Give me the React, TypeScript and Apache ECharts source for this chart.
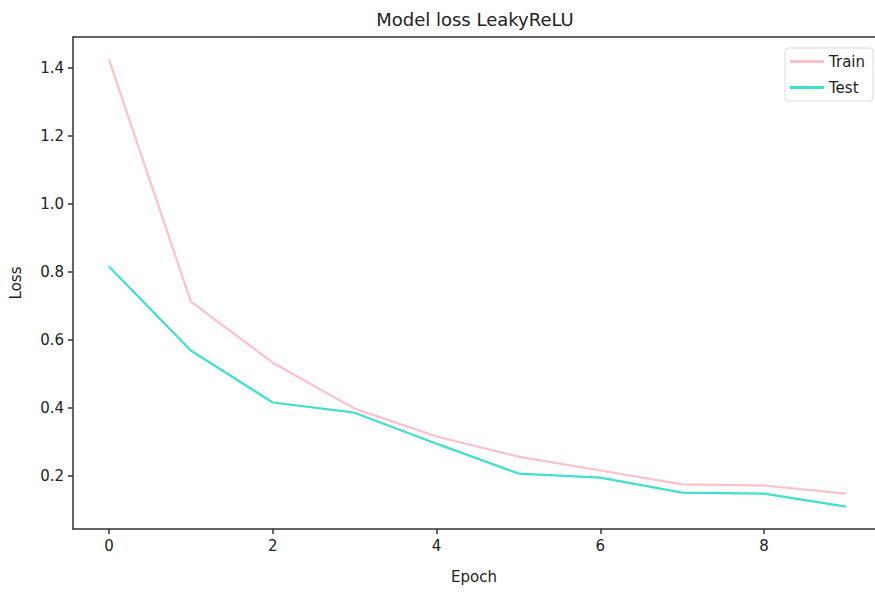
import React, { useEffect, useRef } from "react";
import * as echarts from "echarts";

const epochs = [0, 1, 2, 3, 4, 5, 6, 7, 8, 9];
const trainLoss = [1.424, 0.712, 0.532, 0.397, 0.315, 0.256, 0.215, 0.174, 0.171, 0.147];
const testLoss = [0.815, 0.568, 0.415, 0.385, 0.294, 0.206, 0.194, 0.15, 0.147, 0.109];
const xTicks = [0, 2, 4, 6, 8];
const yTicks = [0.2, 0.4, 0.6, 0.8, 1.0, 1.2, 1.4];

const FONT = "DejaVu Sans";

export default function App() {
  const ref = useRef<HTMLDivElement>(null);
  useEffect(() => {
    if (!ref.current) return;
    const chart = echarts.init(ref.current, undefined, { renderer: "svg" });
    const axisLine = { show: true, onZero: false, lineStyle: { color: "#333", width: 1.5 } };
    chart.setOption({
      animation: false,
      backgroundColor: "#fff",
      textStyle: { fontFamily: FONT },
      title: {
        text: "Model loss LeakyReLU",
        left: 470,
        top: 5,
        textAlign: "center",
        textStyle: { fontFamily: FONT, fontSize: 18, fontWeight: "normal", color: "#222" },
      },
      legend: {
        orient: "vertical",
        right: 2,
        top: 48,
        itemWidth: 34,
        itemHeight: 3,
        itemGap: 11,
        padding: [6, 8, 6, 5],
        borderColor: "#ddd",
        borderWidth: 1,
        borderRadius: 3,
        icon: "rect",
        textStyle: { fontFamily: FONT, fontSize: 15, color: "#222" },
        data: ["Train", "Test"],
      },
      grid: { left: 72, right: 0, top: 37, bottom: 65, containLabel: false },
      xAxis: [
        {
          type: "value",
          min: -0.439,
          max: 9.354,
          name: "Epoch",
          nameLocation: "middle",
          nameGap: 40,
          nameTextStyle: { fontFamily: FONT, fontSize: 15, color: "#222" },
          axisLine,
          splitLine: { show: false },
          axisTick: { show: true, length: 5, lineStyle: { color: "#333", width: 1.5 }, customValues: xTicks },
          axisLabel: { fontFamily: FONT, fontSize: 15, color: "#222", margin: 9, customValues: xTicks },
        },
        {
          type: "value",
          position: "top",
          min: -0.439,
          max: 9.354,
          axisLine,
          splitLine: { show: false },
          axisTick: { show: false },
          axisLabel: { show: false },
        },
      ],
      yAxis: {
        type: "value",
        min: 0.043,
        max: 1.49,
        name: "Loss",
        nameLocation: "middle",
        nameGap: 50,
        nameTextStyle: { fontFamily: FONT, fontSize: 15, color: "#222" },
        axisLine,
        splitLine: { show: false },
        axisTick: { show: true, length: 5, lineStyle: { color: "#333", width: 1.5 }, customValues: yTicks },
        axisLabel: {
          fontFamily: FONT,
          fontSize: 15,
          color: "#222",
          margin: 9,
          customValues: yTicks,
          formatter: (v: number) => v.toFixed(1),
        },
      },
      series: [
        {
          name: "Train",
          type: "line",
          xAxisIndex: 0,
          data: epochs.map((e, i) => [e, trainLoss[i]]),
          showSymbol: false,
          lineStyle: { color: "#FFC0CB", width: 2.2 },
          itemStyle: { color: "#FFC0CB" },
        },
        {
          name: "Test",
          type: "line",
          xAxisIndex: 0,
          data: epochs.map((e, i) => [e, testLoss[i]]),
          showSymbol: false,
          lineStyle: { color: "#40E0D0", width: 2.2 },
          itemStyle: { color: "#40E0D0" },
        },
      ],
    });
    return () => chart.dispose();
  }, []);
  return (
    <div
      ref={ref}
      style={{ position: "fixed", left: 0, top: 0, width: 875, height: 594 }}
    />
  );
}
